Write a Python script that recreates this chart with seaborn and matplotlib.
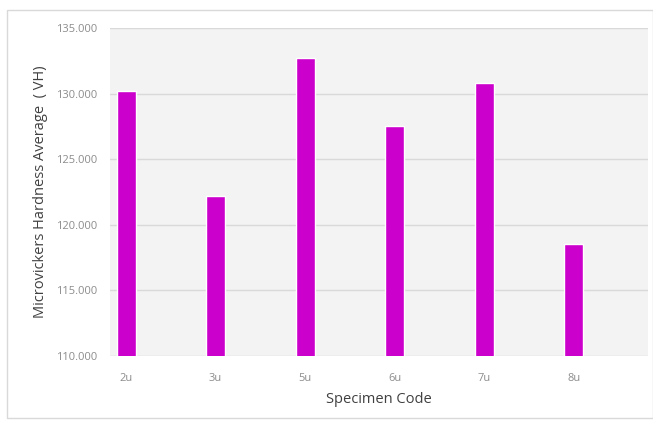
import matplotlib
matplotlib.use("Agg")
import matplotlib.pyplot as plt
import seaborn as sns
import pandas as pd
from matplotlib.patches import Rectangle

codes = ["2u", "3u", "5u", "6u", "7u", "8u"]
hardness = [130.2, 122.2, 132.7, 127.5, 130.8, 118.5]

df = pd.DataFrame({"code": codes, "hv": hardness})

sns.set_style("white")
plt.rcParams["font.family"] = ["Open Sans", "DejaVu Sans"]

fig = plt.figure(figsize=(6.53, 4.26), dpi=100)
fig.patches.append(Rectangle((7 / 653, 1 - 418 / 426), 646 / 653, 408 / 426,
                             transform=fig.transFigure, fill=False,
                             edgecolor="#d9d9d9", linewidth=1))
ax = fig.add_axes([110 / 653, 1 - 356 / 426, 538 / 653, 328 / 426])
ax.set_facecolor("#f3f3f3")

sns.barplot(data=df, x="code", y="hv", color="#cc00cc", saturation=1,
            width=0.21, ax=ax)

ax.set_ylim(110, 135)
ax.set_xlim(-0.18, 5.83)
ax.set_yticks([110, 115, 120, 125, 130, 135])
ax.set_yticklabels([f"{v:.3f}" for v in [110, 115, 120, 125, 130, 135]])
ax.grid(axis="y", color="#d9d9d9", linewidth=1)
ax.set_axisbelow(True)
for s in ax.spines.values():
    s.set_visible(False)
ax.tick_params(length=0, labelsize=8, labelcolor="#8c8c8c")
ax.tick_params(axis="y", pad=9)
ax.tick_params(axis="x", pad=12)

ax.set_xlabel("Specimen Code", fontsize=10.5, color="#404040", labelpad=6)
ax.set_ylabel("Microvickers Hardness Average  ( VH)", fontsize=10.5,
              color="#404040", labelpad=6)

fig.savefig("out.png", dpi=100)
